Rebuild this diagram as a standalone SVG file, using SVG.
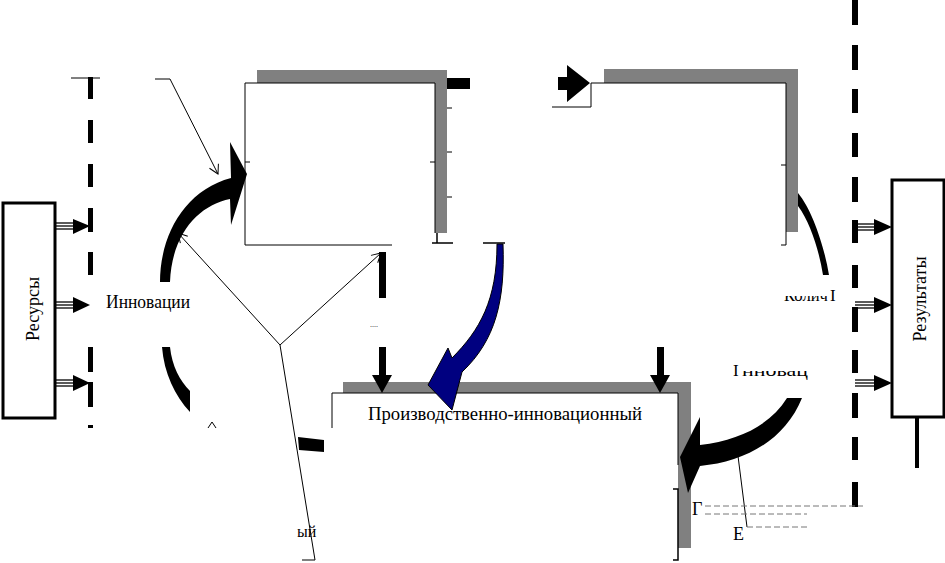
<svg xmlns="http://www.w3.org/2000/svg" width="945" height="563" viewBox="0 0 945 563">
<style>
.t{font-family:"Liberation Serif","Times New Roman",serif;fill:#000}
.thin{stroke:#000;stroke-width:1;fill:none}
.shadow{fill:#808080}
.box{fill:#fff;stroke:#000;stroke-width:3}
.blk{fill:#000}
.dash{fill:#000}
.tri line{stroke:#000;stroke-width:1.3}
</style>
<defs>
<marker id="open" markerWidth="12" markerHeight="12" refX="10" refY="6" orient="auto" markerUnits="userSpaceOnUse">
<path d="M1,1 L10,6 L1,11" fill="none" stroke="#000" stroke-width="1"/>
</marker>
<clipPath id="c1"><rect x="770" y="296" width="80" height="20"/></clipPath>
<clipPath id="c2"><rect x="741" y="371" width="80" height="20"/></clipPath>
</defs>
<rect width="945" height="563" fill="#fff"/>

<g id="boundaries">
<rect class="dash" x="88" y="77" width="5" height="22"/>
<rect class="dash" x="88" y="120" width="5" height="23"/>
<rect class="dash" x="88" y="164" width="5" height="23"/>
<rect class="dash" x="88" y="208" width="5" height="24"/>
<rect class="dash" x="88" y="252" width="5" height="23"/>
<rect class="dash" x="88" y="347" width="5" height="25"/>
<rect class="dash" x="88" y="382" width="5" height="25"/>
<rect class="dash" x="88" y="425" width="5" height="3"/>
<line x1="71" y1="78" x2="100" y2="78" stroke="#000" stroke-width="1"/>
<rect class="dash" x="852" y="0" width="6" height="25"/>
<rect class="dash" x="852" y="45" width="6" height="25"/>
<rect class="dash" x="852" y="89" width="6" height="24"/>
<rect class="dash" x="852" y="133" width="6" height="24"/>
<rect class="dash" x="852" y="177" width="6" height="25"/>
<rect class="dash" x="852" y="220" width="6" height="23"/>
<rect class="dash" x="852" y="265" width="6" height="23"/>
<rect class="dash" x="852" y="307" width="6" height="25"/>
<rect class="dash" x="852" y="350" width="6" height="23"/>
<rect class="dash" x="852" y="393" width="6" height="25"/>
<rect class="dash" x="852" y="437" width="6" height="23"/>
<rect class="dash" x="852" y="482" width="6" height="25"/>
</g>

<g id="node-resources">
<rect class="box" x="3" y="203" width="52" height="215"/>
<text class="t" x="0" y="0" font-size="18" text-anchor="middle" transform="translate(39,309) rotate(-90)">Ресурсы</text>
</g>

<g id="node-results">
<rect class="box" x="892" y="180" width="52" height="237"/>
<line x1="917" y1="417" x2="917" y2="468" stroke="#000" stroke-width="4"/>
<text class="t" x="0" y="0" font-size="18" text-anchor="middle" transform="translate(926,299) rotate(-90)">Результаты</text>
</g>

<g id="node-box1">
<rect class="shadow" x="257" y="70" width="190" height="13"/>
<rect class="shadow" x="435" y="70" width="12" height="163"/>
<rect x="245" y="83" width="190" height="162" fill="#fff"/>
<path class="thin" d="M245,245 L245,83 L435,83 L435,233"/>
<line class="thin" x1="245" y1="245" x2="392" y2="245"/>
<path class="thin" d="M245,162 L250,162 M430,162 L435,162 M447,108 L452,108 M447,152 L452,152 M447,197 L452,197"/>
<path d="M437,233 L437,243 L432,243 M437,243 L453,243" stroke="#000" stroke-width="1.5" fill="none"/>
<rect class="blk" x="447" y="78" width="23" height="11"/>
</g>

<g id="node-box2">
<rect class="shadow" x="604" y="69" width="194" height="14"/>
<rect class="shadow" x="786" y="69" width="12" height="163"/>
<path class="thin" d="M591,83 L786,83 L786,245 L781,245 M781,165 L786,165"/>
<path class="thin" d="M591,83 L591,107 L552,107"/>
<path class="blk" d="M558,77 L567,77 L567,65 L590,83 L567,102 L567,90 L558,90 Z"/>
</g>

<g id="node-box3">
<rect class="shadow" x="343" y="382" width="348" height="11"/>
<rect class="shadow" x="678" y="382" width="13" height="166"/>
<rect x="332" y="393" width="346" height="170" fill="#fff"/>
<path class="thin" d="M332,428 L332,393 L678,393 L678,465"/>
<path d="M673,489 L678,489 L678,560 L673,560" stroke="#000" stroke-width="1.5" fill="none"/>
<text class="t" x="368" y="420" font-size="18" textLength="274" lengthAdjust="spacingAndGlyphs">Производственно-инновационный</text>
</g>

<g id="labels">
<text class="t" x="106" y="308" font-size="18" textLength="84" lengthAdjust="spacingAndGlyphs">Инновации</text>
<text class="t" x="784" y="301" font-size="17" clip-path="url(#c1)" textLength="44" lengthAdjust="spacingAndGlyphs">Колич</text>
<text class="t" x="830" y="301" font-size="17">I</text>
<text class="t" x="733" y="376" font-size="17">I</text>
<text class="t" x="742" y="376" font-size="17" clip-path="url(#c2)" textLength="66" lengthAdjust="spacingAndGlyphs">нновац</text>
<text class="t" x="297" y="537" font-size="16">ый</text>
<text class="t" x="692" y="515" font-size="18">Г</text>
<text class="t" x="733" y="540" font-size="18">Е</text>
<text class="t" x="370" y="327" font-size="8" fill="#444">....</text>
</g>

<g id="connectors">
<g class="tri">
<line x1="55" y1="223" x2="75" y2="223"/><line x1="55" y1="226" x2="75" y2="226"/><line x1="55" y1="229" x2="75" y2="229"/>
<line x1="55" y1="302" x2="75" y2="302"/><line x1="55" y1="305" x2="75" y2="305"/><line x1="55" y1="308" x2="75" y2="308"/>
<line x1="55" y1="380" x2="75" y2="380"/><line x1="55" y1="383" x2="75" y2="383"/><line x1="55" y1="386" x2="75" y2="386"/>
<line x1="855" y1="224" x2="875" y2="224"/><line x1="855" y1="227" x2="875" y2="227"/><line x1="855" y1="230" x2="875" y2="230"/>
<line x1="855" y1="302" x2="875" y2="302"/><line x1="855" y1="305" x2="875" y2="305"/><line x1="855" y1="308" x2="875" y2="308"/>
<line x1="855" y1="380" x2="875" y2="380"/><line x1="855" y1="383" x2="875" y2="383"/><line x1="855" y1="386" x2="875" y2="386"/>
</g>
<path class="blk" d="M73,219 L90,226 L73,234 Z M73,297 L90,305 L73,313 Z M73,375 L90,383 L73,391 Z"/>
<path class="blk" d="M874,219 L892,227 L874,235 Z M874,297 L892,305 L874,313 Z M874,375 L892,383 L874,391 Z"/>

<path class="thin" d="M155,79 L170,79 L218,174" marker-end="url(#open)"/>
<line class="thin" x1="280" y1="345" x2="178" y2="233" marker-end="url(#open)"/>
<line class="thin" x1="280" y1="345" x2="381" y2="253" marker-end="url(#open)"/>
<path class="thin" d="M280,345 L315,560 L302,560"/>

<path class="blk" d="M160,282 C160,235 185,190 231,178 L230,142 L247,174 L231,225 L230,199 C200,205 172,232 170,282 Z"/>
<path class="blk" d="M162,347 L170,347 C172,366 180,381 190,391 L190,412 C175,396 164,373 162,347 Z"/>
<path class="thin" d="M208,428 L212,422 L216,428"/>

<rect class="blk" x="379" y="252" width="7" height="46"/>
<path class="blk" d="M379,347 L386,347 L386,375 L392,375 L382,393 L372,375 L379,375 Z"/>
<path class="blk" d="M657,347 L664,347 L664,375 L670,375 L660,393 L650,375 L657,375 Z"/>

<path class="blk" d="M298,437 L324,440 L324,452 L299,450 Z"/>

<line x1="483" y1="243" x2="505" y2="243" stroke="#000" stroke-width="1.5"/>
<path d="M497,244 L503,244 C505,300 496,340 462,372 L452,410 L428,385 L448,348 L452,358 C480,330 497,300 497,244 Z" fill="#000080" stroke="#000" stroke-width="1"/>

<path class="blk" d="M798,193 C812,210 824,245 829,275 L823,275 C819,250 810,222 798,206 Z"/>

<path class="blk" d="M787,398 L802,398 C785,440 745,462 700,466 L688,493 L680,457 L700,417 L700,445 C740,440 770,425 787,398 Z"/>

<path class="thin" d="M738,456 L747,527"/>
<line x1="705" y1="506" x2="863" y2="506" stroke="#777" stroke-width="1" stroke-dasharray="6,3"/>
<line x1="705" y1="514" x2="807" y2="514" stroke="#777" stroke-width="1" stroke-dasharray="6,3"/>
<line x1="747" y1="527" x2="807" y2="527" stroke="#777" stroke-width="1" stroke-dasharray="6,3"/>
</g>
</svg>
